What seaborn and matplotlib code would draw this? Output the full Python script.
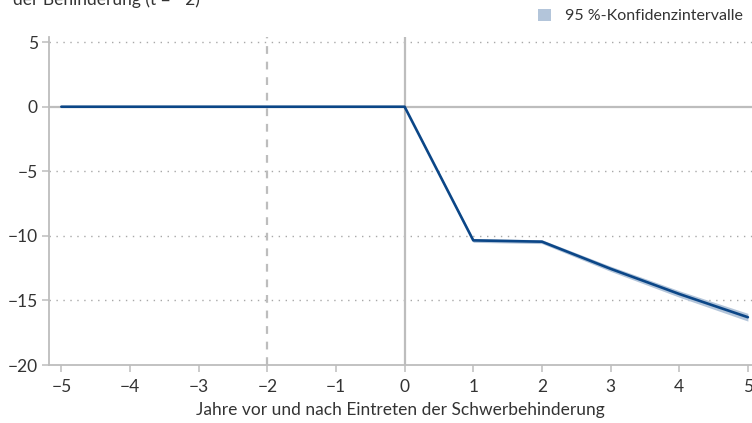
import numpy as np
import pandas as pd
import matplotlib
matplotlib.use("Agg")
import matplotlib.pyplot as plt
from matplotlib.patches import Patch
import seaborn as sns

# Data
years = [-5, -4, -3, -2, -1, 0, 1, 2, 3, 4, 5]
effect = [0.0, 0.0, 0.0, 0.0, 0.0, 0.0, -10.35, -10.45, -12.55, -14.5, -16.3]
ci_low = [0.0, 0.0, 0.0, 0.0, 0.0, 0.0, -10.5, -10.6, -12.75, -14.75, -16.6]
ci_high = [0.0, 0.0, 0.0, 0.0, 0.0, 0.0, -10.2, -10.3, -12.35, -14.25, -16.0]
xticks = [-5, -4, -3, -2, -1, 0, 1, 2, 3, 4, 5]
yticks = [5, 0, -5, -10, -15, -20]
title_text = "der Behinderung (t = −2)"
legend_label = "95 %-Konfidenzintervalle"
xlabel = "Jahre vor und nach Eintreten der Schwerbehinderung"

df = pd.DataFrame({"Jahr": years, "Effekt": effect, "lo": ci_low, "hi": ci_high})

sns.set_theme(style="white")
plt.rcParams["font.family"] = ["Lato", "DejaVu Sans"]
plt.rcParams["axes.unicode_minus"] = True

LINE = "#0b4687"
CI = "#b3c5da"
GRAYL = "#bdbdbd"
TXT = "#333333"

fig = plt.figure(figsize=(7.52, 4.23), dpi=100)
ax = fig.add_axes([49 / 752, 1 - 365 / 423, 1 - 49 / 752, (365 - 37) / 423])

ax.set_xlim(-5.18, 5.06)
ax.set_ylim(-20, 5.4)

# grid (dotted)
for y in [5, -5, -10, -15]:
    ax.axhline(y, color="#a8a8a8", lw=1.0, ls=(0, (1, 4)), zorder=0)
ax.axhline(0, color=GRAYL, lw=1.6, zorder=1)
ax.axvline(0, color=GRAYL, lw=1.6, zorder=1)
ax.axvline(-2, color=GRAYL, lw=1.6, ls=(0, (3.5, 3.5)), zorder=1)

ax.fill_between(df["Jahr"], df["lo"], df["hi"], color=CI, lw=0, zorder=2)
sns.lineplot(data=df, x="Jahr", y="Effekt", color=LINE, lw=1.9, ax=ax, zorder=3)

for s in ["top", "right"]:
    ax.spines[s].set_visible(False)
for s in ["left", "bottom"]:
    ax.spines[s].set_color(GRAYL)
    ax.spines[s].set_linewidth(1.3)

ax.set_xticks(xticks)
ax.set_yticks(yticks)
ax.tick_params(axis="both", which="both", length=5, width=1.1, color=GRAYL,
               labelsize=12.5, labelcolor=TXT)
ax.tick_params(axis="x", pad=5)
ax.tick_params(axis="y", pad=3)
ax.tick_params(axis="both", bottom=True, left=True)
ax.set_xlabel(xlabel, fontsize=12.5, color=TXT, labelpad=5)
ax.set_ylabel("")

fig.text(200 / 752, 1 - 5 / 423, title_text, ha="right", va="baseline",
         fontsize=12.5, color=TXT)

handles = [Patch(facecolor=CI, edgecolor="none", label=legend_label)]
fig.legend(handles=handles, loc="upper right", bbox_to_anchor=(1.0, 1.0),
           frameon=False, fontsize=11.5, handlelength=0.8, handleheight=0.8,
           handletextpad=0.9, borderaxespad=0.15, labelcolor=TXT)

fig.savefig("out.png", dpi=100)
